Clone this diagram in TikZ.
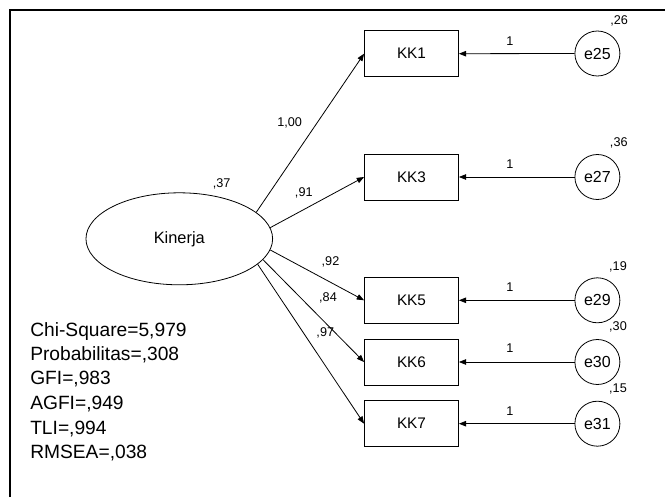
\documentclass[tikz,border=0pt]{standalone}
\usepackage{fontspec}
\setmainfont{Liberation Sans}
\usetikzlibrary{shapes.geometric,arrows.meta}
\begin{document}
\begin{tikzpicture}[x=0.75pt,y=-0.75pt,
  obs/.style={draw,line width=0.6pt,minimum width=70.5pt,minimum height=34.5pt,inner sep=0pt,font=\fontsize{11.5}{13}\selectfont},
  err/.style={draw,circle,line width=0.6pt,minimum size=33.75pt,inner sep=0pt,font=\fontsize{12}{14}\selectfont},
  lat/.style={draw,ellipse,line width=0.6pt,minimum width=140pt,minimum height=69pt,inner sep=0pt,font=\fontsize{12.3}{14}\selectfont},
  lbl/.style={inner sep=0pt,font=\fontsize{9.5}{11}\selectfont},
  stat/.style={inner sep=0pt,anchor=west,font=\fontsize{14.4}{16}\selectfont},
  path/.style={line width=0.6pt,-{Triangle[length=5.5pt,width=4.2pt]}},
  frame/.style={line width=1.5pt}]
\useasboundingbox (0,0) rectangle (665,497);
\coordinate (fA) at (10.25,497);
\coordinate (fB) at (10.25,9.5);
\coordinate (fC) at (665,9.5);
\draw[frame] (fA) -- (fB) -- (fC);

\node[lat] (kin) at (179.3,238.8) {Kinerja};
\node[lbl] (vkin) at (221.7,184.3) {,37};

\node[obs] (kk1) at (411.5,53.7) {KK1};
\node[obs] (kk3) at (411.5,177) {KK3};
\node[obs] (kk5) at (411.5,300.3) {KK5};
\node[obs] (kk6) at (411.5,362) {KK6};
\node[obs] (kk7) at (411.5,423.7) {KK7};

\node[err] (e25) at (597.4,53.5) {e25};
\node[err] (e27) at (597.4,177) {e27};
\node[err] (e29) at (597.4,300.3) {e29};
\node[err] (e30) at (597.4,362) {e30};
\node[err] (e31) at (597.4,423.7) {e31};

\node[lbl] (v25) at (619.2,20.7) {,26};
\node[lbl] (v27) at (618.8,143.3) {,36};
\node[lbl] (v29) at (618,266.7) {,19};
\node[lbl] (v30) at (618,327.3) {,30};
\node[lbl] (v31) at (618,389) {,15};

\draw[path] (kin.19.5) -- (kk1.west);
\draw[path] (kin.7.2) -- (kk3.west);
\draw[path] (kin.-7) -- (kk5.west);
\draw[path] (kin.-14.2) -- (kk6.west);
\draw[path] (kin.-18.7) -- (kk7.west);

\node[lbl] (l1) at (289.7,122.7) {1,00};
\node[lbl] (l3) at (303.8,192.7) {,91};
\node[lbl] (l5) at (330.5,261.7) {,92};
\node[lbl] (l6) at (328,298.3) {,84};
\node[lbl] (l7) at (325.3,333.3) {,97};

\draw[path] (e25.west) -- (kk1.east);
\draw[path] (e27.west) -- (kk3.east);
\draw[path] (e29.west) -- (kk5.east);
\draw[path] (e30.west) -- (kk6.east);
\draw[path] (e31.west) -- (kk7.east);

\node[lbl] (o25) at (510,41) {1};
\node[lbl] (o27) at (510,164) {1};
\node[lbl] (o29) at (510,286.7) {1};
\node[lbl] (o30) at (510,348.3) {1};
\node[lbl] (o31) at (510,410.7) {1};

\node[stat] (s1) at (30,331.7) {Chi-Square=5,979};
\node[stat] (s2) at (30,354.5) {Probabilitas=,308};
\node[stat] (s3) at (30,379) {GFI=,983};
\node[stat] (s4) at (30,404) {AGFI=,949};
\node[stat] (s5) at (30,429) {TLI=,994};
\node[stat] (s6) at (30,453.5) {RMSEA=,038};
\end{tikzpicture}
\end{document}
